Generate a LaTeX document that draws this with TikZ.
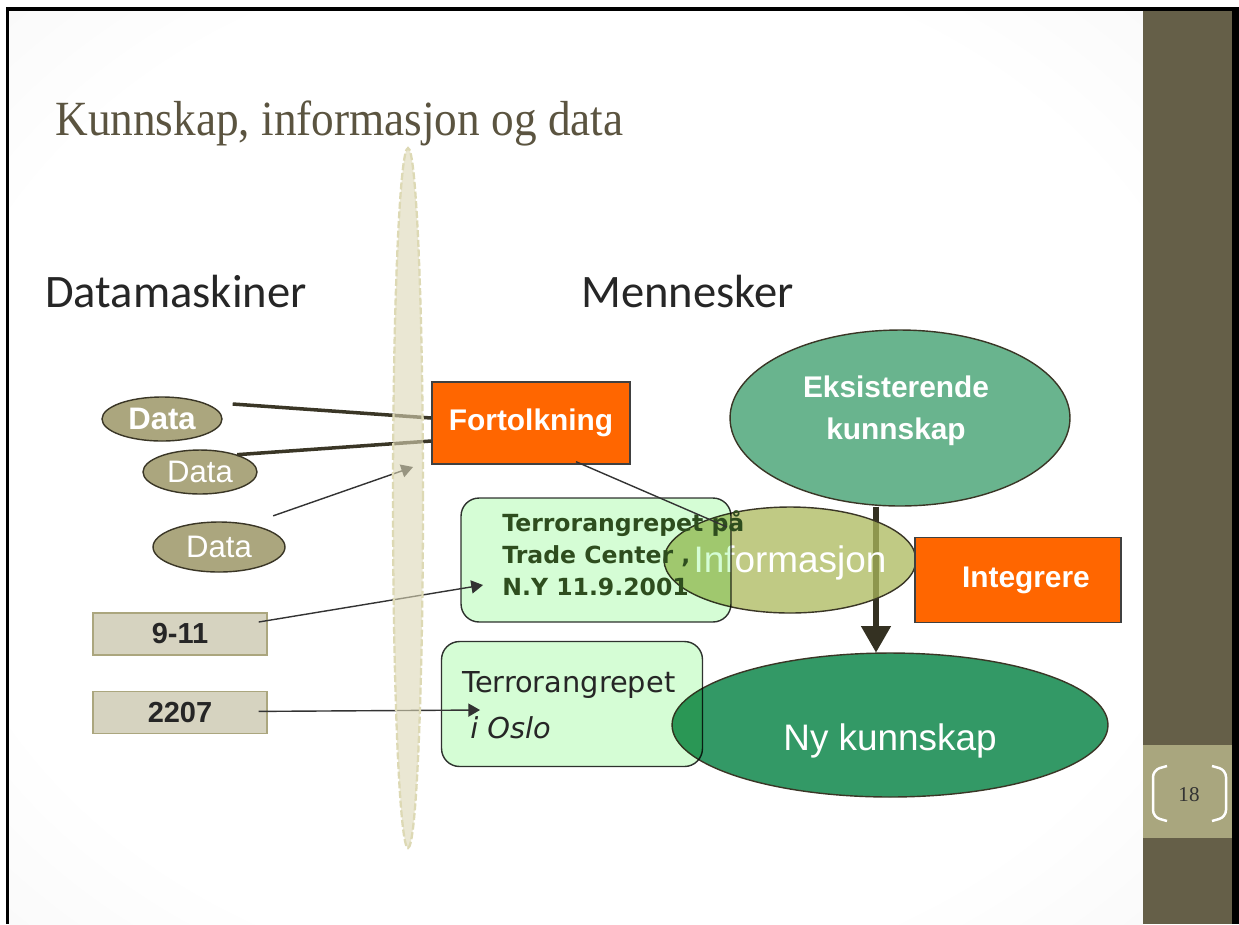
\documentclass[tikz,border=0pt]{standalone}
\usepackage{fontspec}
\setmainfont{Liberation Sans}
\newfontfamily\titlefont{Liberation Serif}
\newfontfamily\calibrifont{Carlito}
\newfontfamily\comicfont{DejaVu Sans}
\definecolor{SlideOlive}{HTML}{655F48}
\definecolor{PageBox}{HTML}{A9A67E}
\definecolor{TitleBrown}{HTML}{5B5440}
\definecolor{DataKhaki}{HTML}{ABA67E}
\definecolor{DarkLine}{HTML}{3A3626}
\definecolor{Orange}{HTML}{FF6600}
\definecolor{MintBox}{HTML}{D5FDD5}
\definecolor{KnowGreen}{HTML}{69B48E}
\definecolor{NewGreen}{HTML}{339966}
\definecolor{InfoOlive}{HTML}{ACB95C}
\definecolor{BandBeige}{HTML}{DCD7B6}
\definecolor{BandDash}{HTML}{DDD9B4}
\definecolor{ComicGreen}{HTML}{2E4D1E}
\definecolor{NumBox}{HTML}{D6D3C0}
\usetikzlibrary{shapes,arrows,positioning,calc,backgrounds}
\pgfdeclareradialshading{slideglow}{\pgfpoint{0bp}{0bp}}{color(0bp)=(white); color(28bp)=(white); color(70bp)=(black!11)}

\begin{document}
\begin{tikzpicture}
[x=0.02cm,y=-0.02cm,
   oval/.style={ellipse,draw=DarkLine,line width=0.8pt,fill=DataKhaki,text=white,
   inner sep=0pt,font=\fontsize{17.7}{20}\selectfont},
   orangebox/.style={rectangle,draw=black!75,line width=0.8pt,fill=Orange,text=white,
   font=\fontsize{17}{20}\selectfont\bfseries,inner sep=0pt},
   mintbox/.style={rectangle,rounded corners=0.36cm,draw=black!80,line width=0.8pt,
   fill=MintBox,blend mode=multiply},
   numbox/.style={rectangle,draw=DataKhaki,line width=0.8pt,fill=NumBox,minimum width=3.48cm,
   minimum height=0.84cm,font=\fontsize{16.5}{18}\selectfont\bfseries,text=black!85},
   heading/.style={anchor=base west,inner sep=0pt,font=\calibrifont\fontsize{26.5}{30}\selectfont,text=black!85},
   dataline/.style={DarkLine,line width=2pt},
   thinarrow/.style={black!80,line width=0.8pt,->,>=triangle 60},
   bigarrow/.style={draw=DarkLine!90!black,line width=3.2pt,->,>=triangle 60}]
\useasboundingbox (0,0) rectangle (1239,924);
%% slide frame
\fill[black] (6,7) rectangle (1239,924);
\shade[shading=slideglow] (9,11) rectangle (1143,924);
\fill[SlideOlive] (1143,11) rectangle (1232,924);
\fill[PageBox] (1143,745) rectangle (1232,838);
\draw[white,line width=1.4pt,rounded corners=4pt] (1167,766) -- (1153,770) -- (1153,817) -- (1167,821);
\draw[white,line width=1.4pt,rounded corners=4pt] (1212,766) -- (1226,770) -- (1226,817) -- (1212,821);
\node[font=\titlefont\fontsize{12}{14}\selectfont,text=black!80] (pagenum) at (1189,795) {18};

\node[anchor=base west,inner sep=0pt,font=\titlefont\fontsize{28}{30}\selectfont,
text=TitleBrown,xscale=0.92] (title) at (55,135) {Kunnskap, informasjon og data};
\node[heading] (machines) at (45,307) {Datamaskiner};
\node[heading] (humans) at (581,307) {Mennesker};

%% knowledge side
\node[ellipse,draw=DarkLine,line width=0.8pt,fill=KnowGreen,minimum width=6.8cm,
minimum height=3.52cm] (eks) at (900,418) {};
\node[align=center,text=white,font=\fontsize{17}{23.8}\selectfont\bfseries] (ekslbl)
at (896,411) {Eksisterende\\kunnskap};
\node[ellipse,draw=DarkLine,line width=0.8pt,fill=NewGreen,minimum width=8.72cm,
minimum height=2.88cm] (ny) at (890,725) {};
\node[text=white,font=\fontsize{21}{24}\selectfont] (nylbl) at (890,741) {Ny kunnskap};
\coordinate (arrtop) at ($(eks.south)+(-24,0)$);
\draw[bigarrow] (arrtop) -- (arrtop |- ny.north);
\node[ellipse,draw=DarkLine,line width=0.8pt,fill=InfoOlive,fill opacity=0.75,
minimum width=5.04cm,minimum height=2.12cm] (info) at (790,560) {};
\node[text=white,font=\fontsize{21}{24}\selectfont] (infolbl) at (790,563) {Informasjon};

\node[mintbox,minimum width=5.4cm,minimum height=2.48cm] (wtc) at (596,560) {};
\node[anchor=west,align=left,inner sep=0pt,text=ComicGreen,
font=\comicfont\bfseries\fontsize{13.4}{18.1}\selectfont] (wtctext) at (502,553)
{Terrorangrepet på\\Trade Center ,\\N.Y 11.9.2001};
\node[mintbox,minimum width=5.22cm,minimum height=2.5cm] (oslo) at (572,704) {};
\node[anchor=west,align=left,inner sep=0pt,text=black!85,
font=\comicfont\fontsize{16.4}{26}\selectfont] (oslotext) at (462,705)
{Terrorangrepet\\\hspace*{4.5pt}\itshape i Oslo};

\node[orangebox,minimum width=3.96cm,minimum height=1.64cm] (fort) at (531,423) {Fortolkning};
\node[orangebox,minimum width=4.12cm,minimum height=1.7cm] (integ) at (1018,580) {\hspace*{9pt}Integrere};

%% computer side
\node[oval,minimum width=2.4cm,minimum height=0.88cm,font=\fontsize{17.7}{20}\selectfont\bfseries] (d1) at (162,419) {Data};
\node[oval,minimum width=2.28cm,minimum height=0.88cm] (d2) at (200,472) {Data};
\node[oval,minimum width=2.64cm,minimum height=1cm] (d3) at (219,547) {Data};
\node[numbox] (nine) at (180,634) {9-11};
\node[numbox,below=0.7cm of nine] (twoseven) {2207};

\coordinate (bandc) at (408,498);
\draw[dataline] ($(d1.east)+(10,-15)$) -- ($(fort.west)+(0,-5)$);
\draw[dataline] (d2.25) -- ($(fort.west)+(0,18)$);
\draw[thinarrow] ($(d3.north east)+(7,-13)$) -- ($(bandc)+(5,-31)$);
\draw[thinarrow] ($(nine.east)+(-9,-12)$) -- ($(wtctext.west)+(-19,32)$);
\draw[thinarrow] ($(twoseven.east)+(-9,-1)$) -- ($(oslotext.west)+(18,5)$);
\draw[black!80,line width=0.8pt] ($(fort.south)+(45,-3)$) -- ($(info.center)+(-63,-33)$);

%% border between machines and humans
\node[ellipse,minimum width=0.6cm,minimum height=14cm,fill=BandBeige,fill opacity=0.6,
draw=BandDash,line width=1.3pt,dash pattern=on 4pt off 1.5pt] (band) at (bandc) {};
\end{tikzpicture}
\end{document}
